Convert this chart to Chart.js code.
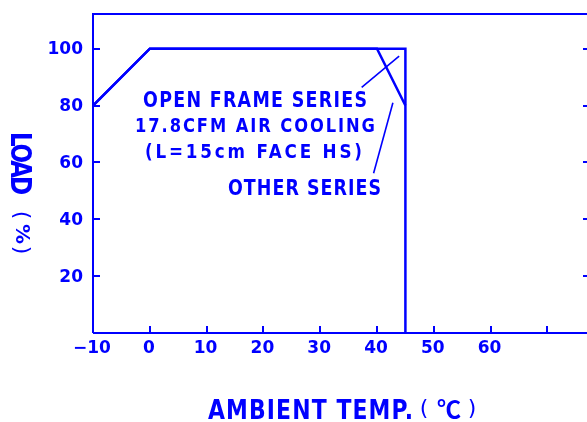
<!DOCTYPE html>
<html>
<head>
<meta charset="utf-8">
<script src="https://cdn.jsdelivr.net/npm/chart.js@4/dist/chart.umd.min.js"></script>
<style>
  html, body { margin: 0; padding: 0; background: #fff; overflow: hidden; }
  #wrap { position: relative; width: 600px; height: 422px; }
</style>
</head>
<body>
<div id="wrap"><canvas id="c"></canvas></div>
<script>
// ---- data ----
const xTickValues = [-10, 0, 10, 20, 30, 40, 50, 60, 70];
const xTickLabels = ['\u221210', '0', '10', '20', '30', '40', '50', '60', ''];
const yTickValues = [20, 40, 60, 80, 100];
const yTickLabels = ['20', '40', '60', '80', '100'];

const openFrameTemp = [-10, 0, 45, 45];
const openFrameLoad = [80, 100, 100, 0];
const otherTemp = [-10, 0, 40, 45];
const otherLoad = [80, 100, 100, 80];

// annotation leader lines (data units)
const leaderOpenTemp = [37.3, 43.9];
const leaderOpenLoad = [86.4, 97.4];
const leaderOtherTemp = [39.4, 42.8];
const leaderOtherLoad = [56.2, 81.0];

const annotationLines = ['OPEN FRAME SERIES', '17.8CFM AIR COOLING', '(L=15cm FACE HS)', 'OTHER SERIES'];
const xTitle = 'AMBIENT TEMP.';
const xTitleUnit = ['(', '\u2103', ')'];
const yTitle = 'LOAD';
const yTitleUnit = ['(', '%', ')'];

const BLUE = '#0000ff';
const pts = (xs, ys) => xs.map((x, i) => ({ x: x, y: ys[i] }));

function fitText(ctx, text, x0, x1, yc, capH, sx, family, weight) {
  const size = capH / 0.729;
  ctx.save();
  ctx.font = `${weight} ${size}px ${family}`;
  ctx.letterSpacing = '0px';
  const w0 = ctx.measureText(text).width;
  const n = [...text].length;
  const W = x1 - x0;
  const ls = n > 1 ? (W / sx - w0) / (n - 1) : 0;
  ctx.letterSpacing = ls + 'px';
  ctx.translate(x0, yc + capH / 2);
  ctx.scale(sx, 1);
  ctx.textAlign = 'left';
  ctx.textBaseline = 'alphabetic';
  ctx.fillText(text, 0, 0);
  ctx.restore();
}

function glyph(ctx, text, cx, cy, font) {
  ctx.save();
  ctx.font = font;
  ctx.letterSpacing = '0px';
  ctx.textAlign = 'center';
  ctx.textBaseline = 'middle';
  ctx.fillText(text, cx, cy);
  ctx.restore();
}

const framePlugin = {
  id: 'frame',
  afterDraw(chart) {
    const ctx = chart.ctx;
    const a = chart.chartArea;
    const xs = chart.scales.x, ys = chart.scales.y;
    ctx.save();
    ctx.strokeStyle = BLUE;
    ctx.fillStyle = BLUE;
    ctx.lineWidth = 2;
    // frame
    ctx.beginPath();
    ctx.moveTo(a.left, a.bottom); ctx.lineTo(a.left, a.top);
    ctx.lineTo(a.right, a.top); ctx.lineTo(a.right, a.bottom);
    ctx.lineTo(a.left, a.bottom);
    ctx.stroke();
    // ticks (inward)
    ctx.beginPath();
    xTickValues.forEach(v => {
      const px = Math.round(xs.getPixelForValue(v));
      ctx.moveTo(px, a.bottom); ctx.lineTo(px, a.bottom - 7);
    });
    yTickValues.forEach(v => {
      const py = Math.round(ys.getPixelForValue(v));
      ctx.moveTo(a.left, py); ctx.lineTo(a.left + 7, py);
      ctx.moveTo(a.right, py); ctx.lineTo(a.right - 7, py);
    });
    ctx.stroke();
    // tick labels
    ctx.font = 'bold 17px "DejaVu Sans"';
    ctx.textAlign = 'center';
    ctx.textBaseline = 'middle';
    xTickValues.forEach((v, i) => {
      ctx.fillText(xTickLabels[i], xs.getPixelForValue(v) - 1, a.bottom + 16);
    });
    ctx.textAlign = 'right';
    yTickValues.forEach((v, i) => {
      ctx.fillText(yTickLabels[i], a.left - 10, ys.getPixelForValue(v) + 1);
    });
    // annotation text
    const fam = '"DejaVu Sans"';
    fitText(ctx, annotationLines[0], 143, 367, 99, 15, 0.85, fam, 'bold');
    fitText(ctx, annotationLines[1], 135, 375, 124.7, 14, 0.85, fam, 'bold');
    fitText(ctx, annotationLines[2], 145, 362, 150.5, 14.4, 0.85, fam, 'bold');
    fitText(ctx, annotationLines[3], 228, 381, 187.5, 15, 0.85, fam, 'bold');
    // x title
    fitText(ctx, xTitle, 208, 413, 409, 20, 0.8, fam, 'bold');
    const parenFont = '22px "DejaVu Sans"';
    glyph(ctx, xTitleUnit[0], 424, 409, parenFont);
    glyph(ctx, xTitleUnit[1], 449, 409, 'bold 24px "Noto Sans CJK JP"');
    glyph(ctx, xTitleUnit[2], 472, 409, parenFont);
    // y title (rotated, reading downward)
    ctx.save();
    ctx.translate(21, 0);
    ctx.rotate(Math.PI / 2);
    fitText(ctx, yTitle, 132, 195, 0, 21, 0.8, fam, 'bold');
    glyph(ctx, yTitleUnit[0], 215, 0, parenFont);
    glyph(ctx, yTitleUnit[1], 234, 0, 'bold 20px "DejaVu Sans"');
    glyph(ctx, yTitleUnit[2], 250, 0, parenFont);
    ctx.restore();
    ctx.restore();
  }
};

const lineDs = (data, w) => ({
  data: data, showLine: true, borderColor: BLUE, backgroundColor: BLUE,
  borderWidth: w, pointRadius: 0, tension: 0, clip: false, fill: false
});

new Chart(document.getElementById('c'), {
  type: 'scatter',
  data: {
    datasets: [
      lineDs(pts(openFrameTemp, openFrameLoad), 2.5),
      lineDs(pts(otherTemp, otherLoad), 2.5),
      lineDs(pts(leaderOpenTemp, leaderOpenLoad), 1.6),
      lineDs(pts(leaderOtherTemp, leaderOtherLoad), 1.6)
    ]
  },
  options: {
    responsive: true,
    maintainAspectRatio: false,
    animation: false,
    devicePixelRatio: 1,
    layout: { padding: { left: 93, top: 14, right: 10, bottom: 89 } },
    plugins: { legend: { display: false }, tooltip: { enabled: false } },
    scales: {
      x: { type: 'linear', min: -10, max: 77.5, display: false },
      y: { type: 'linear', min: 0, max: 112.2, display: false }
    }
  },
  plugins: [framePlugin]
});
</script>
</body>
</html>
